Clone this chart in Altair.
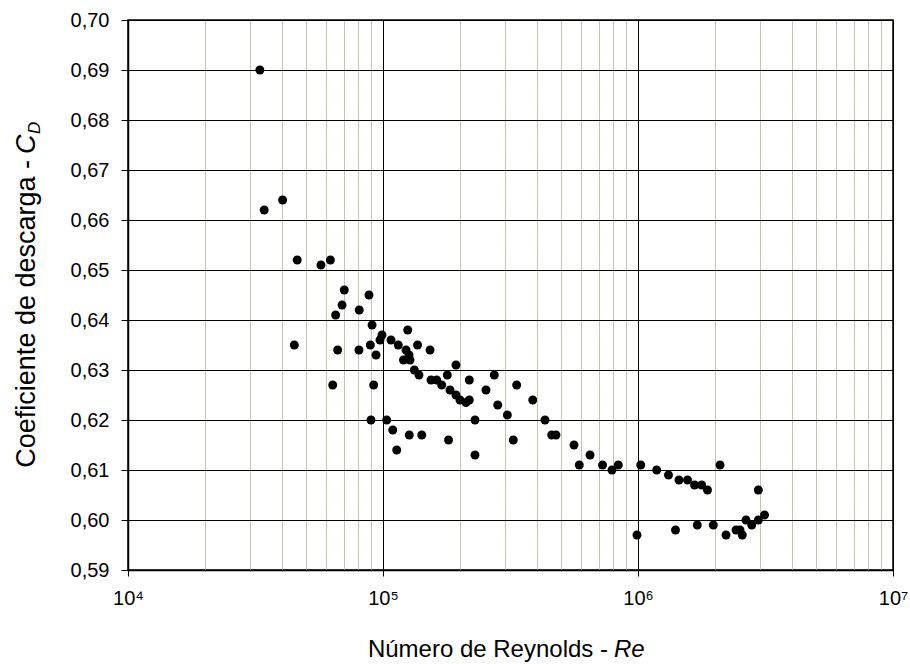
import altair as alt
import pandas as pd

# Reynolds numbers and discharge coefficients
reynolds = [32900, 34200, 40400, 46100, 44900, 57100, 62200, 70500, 69100, 65200,
            66400, 63500, 80700, 80500, 88100, 90600, 89200, 93900, 91900, 89700,
            99100, 97300, 107500, 103400, 109200, 113200, 114800, 125000, 123100, 120300,
            126500, 127600, 132700, 138400, 136600, 126800, 141900, 152900, 154300, 162400,
            169900, 178700, 183100, 180700, 193300, 193300, 200400, 211600, 218000, 218000,
            229500, 229500, 253400, 273200, 281800, 307300, 324300, 334400, 386500, 431800,
            458700, 476900, 561000, 588500, 648500, 725800, 790700, 837000, 991000, 1025000,
            1184000, 1317000, 1403000, 1448000, 1564000, 1666000, 1708000, 1777000, 1873000, 1974000,
            2097000, 2214000, 2423000, 2564000, 2651000, 2792000, 2964000, 2964000, 3134000, 2512000]
cd = [0.690, 0.662, 0.664, 0.652, 0.635, 0.651, 0.652, 0.646, 0.643, 0.641,
      0.634, 0.627, 0.642, 0.634, 0.645, 0.639, 0.635, 0.633, 0.627, 0.620,
      0.637, 0.636, 0.636, 0.620, 0.618, 0.614, 0.635, 0.638, 0.634, 0.632,
      0.633, 0.632, 0.630, 0.629, 0.635, 0.617, 0.617, 0.634, 0.628, 0.628,
      0.627, 0.629, 0.626, 0.616, 0.631, 0.625, 0.624, 0.6235, 0.624, 0.628,
      0.620, 0.613, 0.626, 0.629, 0.623, 0.621, 0.616, 0.627, 0.624, 0.620,
      0.617, 0.617, 0.615, 0.611, 0.613, 0.611, 0.610, 0.611, 0.597, 0.611,
      0.610, 0.609, 0.598, 0.608, 0.608, 0.607, 0.599, 0.607, 0.606, 0.599,
      0.611, 0.597, 0.598, 0.597, 0.600, 0.599, 0.600, 0.606, 0.601, 0.598]

x_major = [10000, 100000, 1000000, 10000000]
x_minor = [m * d for d in [10000, 100000, 1000000] for m in range(2, 10)]
x_ticks = x_major + x_minor
y_ticks = [0.59, 0.60, 0.61, 0.62, 0.63, 0.64, 0.65, 0.66, 0.67, 0.68, 0.69, 0.70]

x_title_plain = "Número de Reynolds -"
x_title_italic = "Re"
y_title_plain = "Coeficiente de descarga -"
y_title_italic = "C"
y_title_sub = "D"

df = pd.DataFrame({"Re": reynolds, "CD": cd})

FONT = "Liberation Sans"
major_test = " || ".join(f"datum.value == {v}" for v in x_major)

x_axis = alt.Axis(
    values=x_ticks,
    title=None,
    grid=True,
    gridColor={"condition": {"test": major_test, "value": "#000000"}, "value": "#c4c4b4"},
    gridWidth=1,
    tickOpacity={"condition": {"test": major_test, "value": 1}, "value": 0},
    tickColor="#000000",
    tickSize=6,
    domainColor="#000000",
    domainWidth=1.5,
    labelExpr="datum.value == 10000 ? '10⁴' : datum.value == 100000 ? '10⁵' : datum.value == 1000000 ? '10⁶' : datum.value == 10000000 ? '10⁷' : ''",
    labelFont=FONT,
    labelFontSize=20,
    labelColor="#000000",
    labelPadding=12,
    labelOverlap=False,
    labelFlush=False,
)

y_axis = alt.Axis(
    values=y_ticks,
    title=None,
    grid=True,
    gridColor="#000000",
    gridWidth=1,
    tickColor="#000000",
    tickSize=7,
    domainColor="#000000",
    domainWidth=1.5,
    labelExpr="replace(format(datum.value, '.2f'), '.', ',')",
    labelFont=FONT,
    labelFontSize=20,
    labelColor="#000000",
    labelPadding=12,
    labelOverlap=False,
)

points = alt.Chart(df).mark_circle(size=80, color="#000000", opacity=1).encode(
    x=alt.X("Re:Q", scale=alt.Scale(type="log", domain=[10000, 10000000]), axis=x_axis),
    y=alt.Y("CD:Q", scale=alt.Scale(domain=[0.59, 0.70], zero=False, nice=False), axis=y_axis),
)

one = pd.DataFrame({"k": [0]})

xt1 = alt.Chart(one).mark_text(font=FONT, fontSize=24, align="right", baseline="middle", color="#000000").encode(
    x=alt.value(480), y=alt.value(630), text=alt.value(x_title_plain))
xt2 = alt.Chart(one).mark_text(font=FONT, fontSize=24, fontStyle="italic", align="left", baseline="middle", color="#000000").encode(
    x=alt.value(486), y=alt.value(630), text=alt.value(x_title_italic))

yt1 = alt.Chart(one).mark_text(font=FONT, fontSize=27, angle=270, align="right", baseline="middle", color="#000000").encode(
    x=alt.value(-101), y=alt.value(140), text=alt.value(y_title_plain))
yt2 = alt.Chart(one).mark_text(font=FONT, fontSize=27, fontStyle="italic", angle=270, align="left", baseline="middle", color="#000000").encode(
    x=alt.value(-101), y=alt.value(134), text=alt.value(y_title_italic))
yt3 = alt.Chart(one).mark_text(font=FONT, fontSize=17, fontStyle="italic", angle=270, align="left", baseline="middle", color="#000000").encode(
    x=alt.value(-93), y=alt.value(114), text=alt.value(y_title_sub))

chart = alt.layer(points, xt1, xt2, yt1, yt2, yt3).properties(
    width=765,
    height=550,
    autosize=alt.AutoSizeParams(type="none"),
    padding={"left": 128, "top": 20, "right": 17, "bottom": 94},
    background="#ffffff",
).configure_view(stroke="#000000", strokeWidth=1.5)

chart.save("out.html", embed_options={"renderer": "svg", "actions": False})
